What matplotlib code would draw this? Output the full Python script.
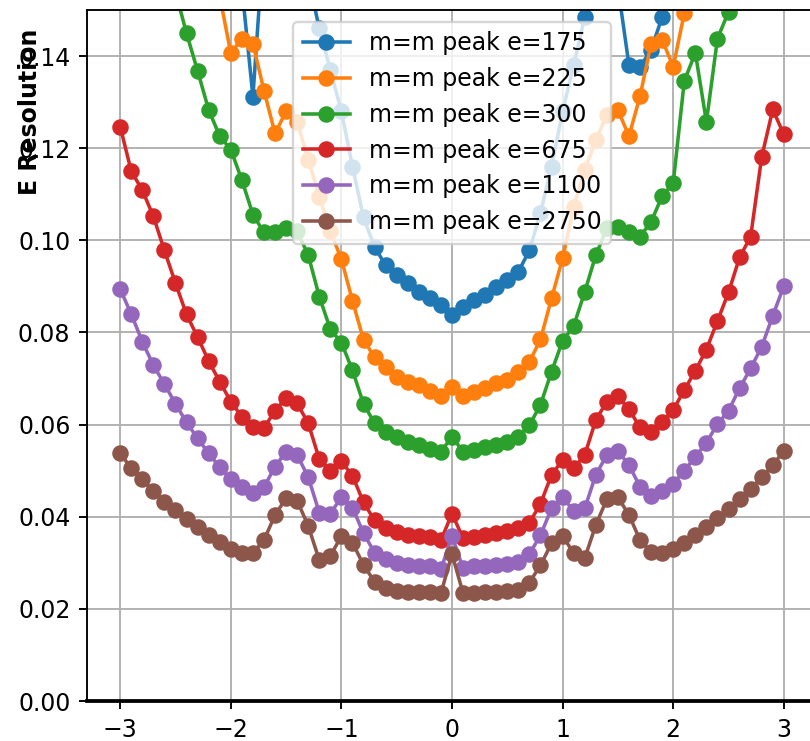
import numpy as np
import matplotlib
matplotlib.use("Agg")
from matplotlib import pyplot as plt

# eta bins, -3 .. 3 in steps of 0.1
eta = np.round(np.arange(-30, 31) / 10.0, 1)
energies = [175, 225, 300, 675, 1100, 2750]

res_175 = [0.24, 0.23, 0.22, 0.21, 0.20, 0.19, 0.185, 0.18, 0.175, 0.17,
           0.163, 0.155, 0.1312, 0.166, 0.175, 0.178, 0.172, 0.157, 0.146, 0.137,
           0.128, 0.116, 0.105, 0.0985, 0.0946, 0.0925, 0.0907, 0.0888, 0.0874, 0.0860,
           0.0838,
           0.0856, 0.0870, 0.0881, 0.0899, 0.0914, 0.0932, 0.0978, 0.106, 0.116, 0.128,
           0.138, 0.1485, 0.160, 0.168, 0.155, 0.138, 0.1377, 0.1413, 0.1485, 0.160,
           0.17, 0.18, 0.19, 0.20, 0.21, 0.22, 0.23, 0.24, 0.25, 0.26]

res_225 = [0.215, 0.205, 0.195, 0.186, 0.177, 0.170, 0.164, 0.158, 0.155, 0.153,
           0.1406, 0.1438, 0.1427, 0.1325, 0.1232, 0.1280, 0.1257, 0.1175, 0.1095, 0.1020,
           0.0959, 0.0869, 0.0784, 0.0746, 0.0726, 0.0704, 0.0693, 0.0686, 0.0673, 0.0661,
           0.0682,
           0.0661, 0.0671, 0.0679, 0.0690, 0.0697, 0.0715, 0.0736, 0.0785, 0.0874, 0.0961,
           0.1073, 0.1153, 0.1218, 0.1272, 0.1283, 0.1226, 0.1313, 0.1427, 0.1435, 0.1377,
           0.1493, 0.158, 0.165, 0.172, 0.180, 0.188, 0.196, 0.204, 0.212, 0.220]

res_300 = [0.195, 0.188, 0.180, 0.171, 0.162, 0.154, 0.1449, 0.1368, 0.1283, 0.1226,
           0.1197, 0.1131, 0.1056, 0.1017, 0.1019, 0.1026, 0.1020, 0.0968, 0.0878, 0.0807,
           0.0778, 0.0718, 0.0645, 0.0603, 0.0585, 0.0572, 0.0563, 0.0556, 0.0548, 0.0541,
           0.0574,
           0.0541, 0.0545, 0.0551, 0.0556, 0.0563, 0.0574, 0.0599, 0.0643, 0.0715, 0.0782,
           0.0814, 0.0888, 0.0968, 0.1026, 0.1030, 0.1019, 0.1008, 0.1040, 0.1096, 0.1124,
           0.1346, 0.1407, 0.1257, 0.1438, 0.1496, 0.158, 0.166, 0.174, 0.183, 0.192]

res_675 = [0.1247, 0.1150, 0.1109, 0.1052, 0.0978, 0.0907, 0.0839, 0.0790, 0.0738, 0.0693,
           0.0650, 0.0617, 0.0594, 0.0593, 0.0630, 0.0658, 0.0646, 0.0603, 0.0525, 0.0500,
           0.0520, 0.0489, 0.0431, 0.0392, 0.0375, 0.0366, 0.0361, 0.0358, 0.0355, 0.0349,
           0.0407,
           0.0353, 0.0357, 0.0360, 0.0365, 0.0370, 0.0376, 0.0387, 0.0428, 0.0491, 0.0523,
           0.0505, 0.0534, 0.0610, 0.0650, 0.0661, 0.0633, 0.0594, 0.0585, 0.0606, 0.0632,
           0.0675, 0.0717, 0.0763, 0.0825, 0.0887, 0.0963, 0.1008, 0.1181, 0.1284, 0.1230]

res_1100 = [0.0894, 0.0840, 0.0780, 0.0729, 0.0688, 0.0645, 0.0605, 0.0570, 0.0538, 0.0507,
            0.0481, 0.0464, 0.0452, 0.0464, 0.0509, 0.0541, 0.0534, 0.0486, 0.0409, 0.0407,
            0.0442, 0.0420, 0.0364, 0.0322, 0.0308, 0.0299, 0.0295, 0.0293, 0.0292, 0.0286,
            0.0358,
            0.0288, 0.0292, 0.0293, 0.0295, 0.0297, 0.0302, 0.0319, 0.0360, 0.0418, 0.0442,
            0.0413, 0.0418, 0.0491, 0.0534, 0.0543, 0.0512, 0.0465, 0.0445, 0.0456, 0.0472,
            0.0500, 0.0530, 0.0561, 0.0601, 0.0630, 0.0679, 0.0722, 0.0769, 0.0836, 0.0901]

res_2750 = [0.0538, 0.0505, 0.0481, 0.0456, 0.0433, 0.0415, 0.0394, 0.0377, 0.0360, 0.0346,
            0.0331, 0.0321, 0.0322, 0.0349, 0.0404, 0.0440, 0.0435, 0.0380, 0.0306, 0.0315,
            0.0358, 0.0344, 0.0295, 0.0259, 0.0245, 0.0239, 0.0237, 0.0237, 0.0237, 0.0234,
            0.0319,
            0.0234, 0.0235, 0.0237, 0.0237, 0.0239, 0.0242, 0.0257, 0.0295, 0.0342, 0.0358,
            0.0321, 0.0310, 0.0382, 0.0438, 0.0442, 0.0404, 0.0349, 0.0324, 0.0322, 0.0329,
            0.0344, 0.0360, 0.0377, 0.0397, 0.0416, 0.0438, 0.0460, 0.0486, 0.0512, 0.0543]

series = [res_175, res_225, res_300, res_675, res_1100, res_2750]

DPI = 170
fig = plt.figure(figsize=(810 / DPI + 1e-4, 741 / DPI + 1e-4), dpi=DPI)
ax = fig.add_axes([87 / 810, 40 / 741, 730 / 810, 691 / 741])

for e, res in zip(energies, series):
    ax.plot(eta, res, marker='o', label='m=m peak e=' + str(e))

ax.set_ylim(0, 0.15)
ax.set_xlim(-3.3, 3.3)
ax.grid(True)
ax.spines['bottom'].set_linewidth(1.6)
ax.set_ylabel('E Resolution', fontweight='bold')
ax.yaxis.set_label_coords(-0.062, 0.852)
ax.legend(loc='upper center')

fig.savefig('out.png', dpi=DPI)
